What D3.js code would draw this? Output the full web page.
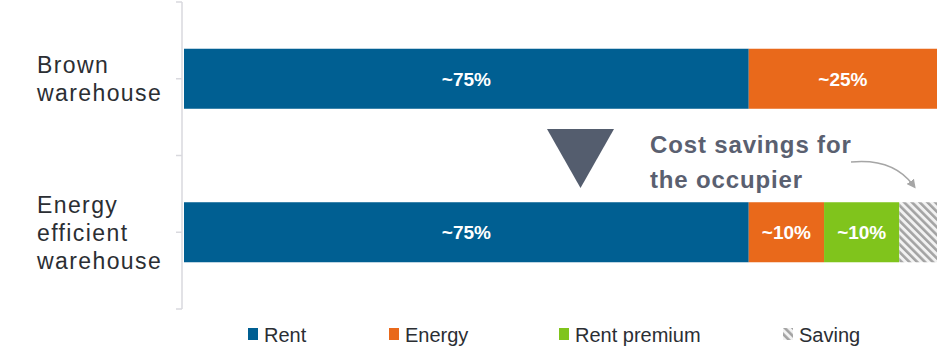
<!DOCTYPE html>
<html>
<head>
<meta charset="utf-8">
<script src="https://cdn.jsdelivr.net/npm/d3@7"></script>
<style>
  body { margin: 0; background: #fff; }
  svg { display: block; font-family: Arial, "Liberation Sans", sans-serif; }
</style>
</head>
<body>
<svg width="939" height="355"></svg>
<script>
// data
var categories = ["Brown warehouse", "Energy efficient warehouse"];
var categoryLines = [["Brown", "warehouse"], ["Energy", "efficient", "warehouse"]];
var seriesNames = ["Rent", "Energy", "Rent premium", "Saving"];
var rentValues = [75, 75];
var energyValues = [25, 10];
var premiumValues = [0, 10];
var savingValues = [0, 5];
var barLabels = [["~75%", "~25%", "", ""], ["~75%", "~10%", "~10%", ""]];

var colors = ["#005f92", "#e9691b", "#80c41c", "url(#hatch)"];

var svg = d3.select("svg");

// hatch pattern for saving
var defs = svg.append("defs");
var pat = defs.append("pattern")
  .attr("id", "hatch")
  .attr("patternUnits", "userSpaceOnUse")
  .attr("width", 5.5).attr("height", 5.5)
  .attr("patternTransform", "rotate(-45)");
pat.append("rect").attr("width", 5.5).attr("height", 5.5).attr("fill", "#f2f2f2");
pat.append("rect").attr("width", 2.6).attr("height", 5.5).attr("fill", "#a3a3a3");

var x = d3.scaleLinear().domain([0, 100]).range([184, 937]);
var y = d3.scaleBand().domain(categories).range([2, 309]).paddingInner(0.609).paddingOuter(0.3045);

// stacked rows
var rows = categories.map(function(c, i) {
  return { cat: c, Rent: rentValues[i], Energy: energyValues[i], "Rent premium": premiumValues[i], Saving: savingValues[i] };
});
var stack = d3.stack().keys(seriesNames)(rows);

var layers = svg.selectAll("g.layer").data(stack).enter().append("g")
  .attr("class", "layer")
  .attr("fill", function(d, i) { return colors[i]; });

layers.selectAll("rect").data(function(d) { return d; }).enter().append("rect")
  .attr("x", function(d) { return x(d[0]); })
  .attr("y", function(d) { return y(d.data.cat); })
  .attr("width", function(d) { return x(d[1]) - x(d[0]); })
  .attr("height", y.bandwidth());

// bar labels
stack.forEach(function(layer, k) {
  layer.forEach(function(d, i) {
    var t = barLabels[i][k];
    if (!t) return;
    svg.append("text")
      .attr("x", (x(d[0]) + x(d[1])) / 2)
      .attr("y", y(d.data.cat) + y.bandwidth() / 2 + 7)
      .attr("text-anchor", "middle")
      .attr("fill", "#fff")
      .attr("font-weight", "bold")
      .attr("font-size", 19)
      .text(t);
  });
});

// axis on the left
var axisX = 182;
svg.append("line")
  .attr("x1", axisX).attr("x2", axisX)
  .attr("y1", 2).attr("y2", 309)
  .attr("stroke", "#d9d9de").attr("stroke-width", 1.5);
var tickYs = [2, 155.5, 309];
categories.forEach(function(c) { tickYs.push(y(c) + y.bandwidth() / 2); });
svg.selectAll("line.tick").data(tickYs).enter().append("line")
  .attr("class", "tick")
  .attr("x1", axisX - 6).attr("x2", axisX)
  .attr("y1", function(d) { return d; }).attr("y2", function(d) { return d; })
  .attr("stroke", "#d9d9de").attr("stroke-width", 1.5);

// category labels
categories.forEach(function(c, i) {
  var lines = categoryLines[i];
  var cy = y(c) + y.bandwidth() / 2;
  var lh = 28;
  var t = svg.append("text")
    .attr("x", 37)
    .attr("font-size", 23)
    .attr("letter-spacing", 1.4)
    .attr("fill", "#2b2e33");
  lines.forEach(function(l, j) {
    t.append("tspan")
      .attr("x", 37)
      .attr("y", cy + 8.5 + (j - (lines.length - 1) / 2) * lh)
      .text(l);
  });
});

// triangle between bars
svg.append("path")
  .attr("d", "M547,129 L614,129 L580.5,188 Z")
  .attr("fill", "#545d6e");

// annotation
var ann = svg.append("text")
  .attr("font-size", 24)
  .attr("font-weight", "bold")
  .attr("fill", "#5a6070")
  .attr("letter-spacing", 0.85);
ann.append("tspan").attr("x", 650).attr("y", 153).text("Cost savings for");
ann.append("tspan").attr("x", 650).attr("y", 188).text("the occupier");

defs.append("marker")
  .attr("id", "arrow")
  .attr("viewBox", "0 0 10 10")
  .attr("refX", 5).attr("refY", 5)
  .attr("markerWidth", 6).attr("markerHeight", 6)
  .attr("orient", "auto")
  .append("path").attr("d", "M0,0 L10,5 L0,10 Z").attr("fill", "#a6a6a6");

svg.append("path")
  .attr("d", "M851,162 Q893,158 913,185")
  .attr("fill", "none")
  .attr("stroke", "#a6a6a6")
  .attr("stroke-width", 1.5)
  .attr("marker-end", "url(#arrow)");

// legend
var legendX = [248, 389, 559, 783];
var lg = svg.selectAll("g.legend").data(seriesNames).enter().append("g")
  .attr("class", "legend")
  .attr("transform", function(d, i) { return "translate(" + legendX[i] + ",328)"; });
lg.append("rect")
  .attr("width", 10).attr("height", 12)
  .attr("fill", function(d, i) { return colors[i]; });
lg.append("text")
  .attr("x", 16).attr("y", 14)
  .attr("font-size", 20)
  .attr("fill", "#2b2e33")
  .text(function(d) { return d; });
</script>
</body>
</html>
